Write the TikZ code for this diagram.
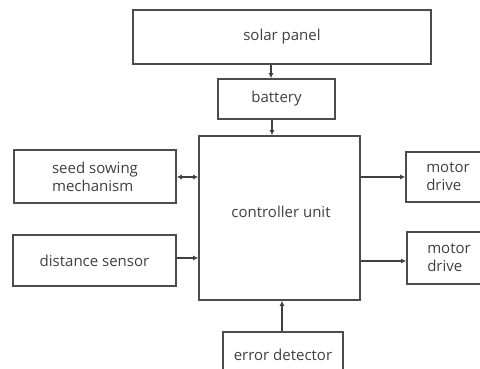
\documentclass[tikz,border=0pt]{standalone}
\usepackage{fontspec}
\setmainfont{Open Sans}
\usetikzlibrary{arrows.meta}
\begin{document}
\begin{tikzpicture}[x=1pt,y=-1pt,
  blk/.style={draw=black!70,line width=1.6pt,rectangle,inner sep=0pt,font=\fontsize{15}{18}\selectfont,text=black!75},
  conn/.style={draw=black!75,line width=1.1pt,-{Latex[length=5pt,width=5pt]}}]
\useasboundingbox (0,0) rectangle (480,369);
\clip (0,0) rectangle (480,369);
\fill[white] (0,0) rectangle (480,369);
\node[blk,minimum width=298pt,minimum height=54pt] (solar) at (282,37) {solar panel};
\node[blk,minimum width=117pt,minimum height=40pt] (bat) at (276.5,99) {battery};
\node[blk,minimum width=161pt,minimum height=164pt] (ctrl) at (279.5,218) {};
\node[font=\fontsize{15}{18}\selectfont,text=black!75] (ctrltext) at (281,212) {controller unit};
\node[blk,minimum width=162pt,minimum height=53pt,align=left] (seed) at (95,176.5) {seed sowing\\mechanism};
\node[blk,minimum width=163pt,minimum height=51pt] (dist) at (94.5,260.5) {distance sensor};
\node[blk,minimum width=84pt,minimum height=50pt,align=left] (m1) at (448,177) {motor\\drive};
\node[blk,minimum width=84pt,minimum height=52pt,align=left] (m2) at (449,258) {motor\\drive};
\node[blk,minimum width=120pt,minimum height=46pt] (err) at (283,355) {error detector};
\draw[conn] (solar.south -| 271,0) -- (bat.north -| 271,0);
\draw[conn] (bat.south -| 272,0) -- (ctrl.north -| 272,0);
\draw[draw=black!75,line width=1.1pt,{Latex[length=5pt,width=5pt]}-{Latex[length=5pt,width=5pt]}] (seed.east |- 0,177) -- (ctrl.west |- 0,177);
\draw[conn] (dist.east |- 0,258) -- (ctrl.west |- 0,258);
\draw[conn] (ctrl.east |- 0,177) -- (m1.west |- 0,177);
\draw[conn] (ctrl.east |- 0,261) -- (m2.west |- 0,261);
\draw[conn] (err.north -| 282,0) -- (ctrl.south -| 282,0);
\end{tikzpicture}
\end{document}
